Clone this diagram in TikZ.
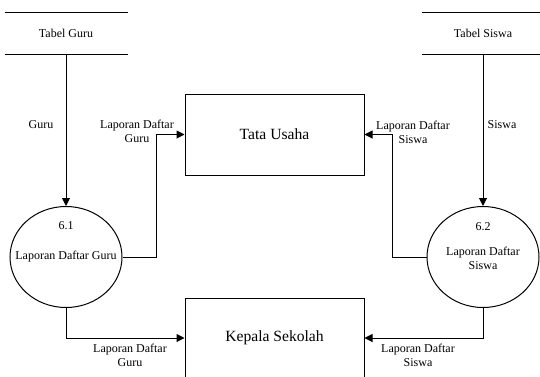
\documentclass[tikz,border=0pt]{standalone}
\usepackage{fontspec}
\setmainfont{Liberation Serif}
\usetikzlibrary{shapes.geometric,arrows.meta}
\begin{document}
\begin{tikzpicture}[x=0.75pt,y=-0.75pt,
  line width=0.75pt,
  lbl/.style={font=\fontsize{9}{10.5}\selectfont, align=center, inner sep=0pt},
  storebox/.style={minimum width=122*0.75pt, minimum height=41*0.75pt, inner sep=0pt, font=\fontsize{9}{10.5}\selectfont},
  proc/.style={draw, ellipse, minimum width=112*0.75pt, minimum height=101*0.75pt, inner sep=0pt},
  ent/.style={draw, rectangle, minimum width=179*0.75pt, minimum height=81*0.75pt, inner sep=0pt, font=\fontsize{11.7}{13}\selectfont},
  arr/.style={-{Triangle[length=6pt,width=6pt]}}]
\useasboundingbox (0,0) rectangle (540,376);
% data stores
\node[storebox] (tg) at (66,33) {Tabel Guru};
\draw (tg.north west) -- (tg.north east);
\draw (tg.south west) -- (tg.south east);
\node[storebox] (ts) at (483,33) {Tabel Siswa};
\draw (ts.north west) -- (ts.north east);
\draw (ts.south west) -- (ts.south east);
% entities
\node[ent] (tu) at (274.5,134.5) {Tata Usaha};
\node[ent, minimum height=80*0.75pt] (ks) at (274.5,338) {Kepala Sekolah};
% processes
\node[proc] (p1) at (66,257) {};
\node[lbl] (p1n) at (66,226) {6.1};
\node[lbl] (p1t) at (66,257) {Laporan Daftar Guru};
\node[proc] (p2) at (483,257) {};
\node[lbl] (p2n) at (483,227) {6.2};
\node[lbl] (p2t) at (483,258) {Laporan Daftar\\Siswa};
% flows
\draw[arr] (tg.south) -- (p1.north);
\draw[arr] (ts.south) -- (p2.north);
\draw[arr] (p1.east) -- ++(34,0) |- (tu.west);
\draw[arr] (p2.west) -- ++(-34,0) |- (tu.east);
\draw[arr] (p1.south) |- (ks.west);
\draw[arr] (p2.south) |- (ks.east);
% flow labels
\node[lbl] (l1) at (41,125) {Guru};
\node[lbl] (l2) at (502,125) {Siswa};
\node[lbl] (l3) at (137,131) {Laporan Daftar\\Guru};
\node[lbl] (l4) at (413,132) {Laporan Daftar\\Siswa};
\node[lbl] (l5) at (130,355) {Laporan Daftar\\Guru};
\node[lbl] (l6) at (418,355) {Laporan Daftar\\Siswa};
\end{tikzpicture}
\end{document}
